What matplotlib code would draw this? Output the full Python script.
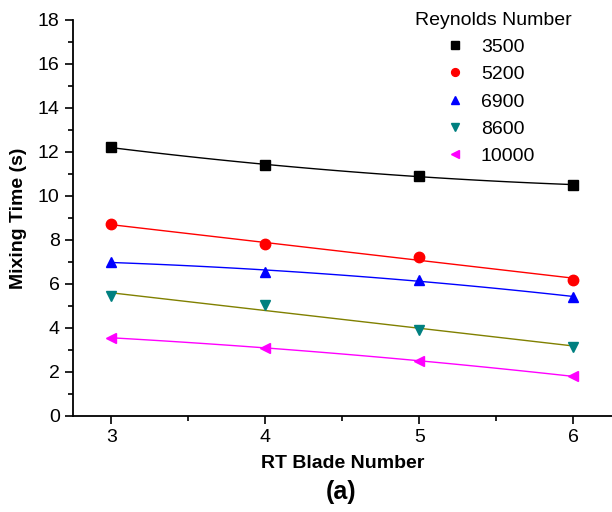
import matplotlib
matplotlib.use("Agg")
import matplotlib.pyplot as plt
import numpy as np

plt.rcParams["font.family"] = ["Liberation Sans", "DejaVu Sans"]

blades = [3, 4, 5, 6]
reynolds = ["3500", "5200", "6900", "8600", "10000"]
mix_3500 = [12.2, 11.4, 10.9, 10.5]
mix_5200 = [8.7, 7.8, 7.2, 6.2]
mix_6900 = [7.0, 6.55, 6.2, 5.4]
mix_8600 = [5.45, 5.05, 3.9, 3.15]
mix_10000 = [3.55, 3.1, 2.5, 1.8]

series = [mix_3500, mix_5200, mix_6900, mix_8600, mix_10000]
markers = ["s", "o", "^", "v", "<"]
marker_colors = ["black", "red", "blue", "#008080", "magenta"]
line_colors = ["black", "red", "blue", "#808000", "magenta"]
fit_degree = [2, 1, 2, 1, 2]

fig = plt.figure(figsize=(6.12, 5.12), dpi=100)
ax = fig.add_axes([0.119, 0.1875, 0.881, 0.774])

xs = np.linspace(3, 6, 100)
for name, ys, m, mc, lc, deg in zip(reynolds, series, markers, marker_colors,
                                   line_colors, fit_degree):
    coef = np.polyfit(blades, ys, deg)
    ax.plot(xs, np.polyval(coef, xs), color=lc, lw=1.0)
    ax.plot(blades, ys, linestyle="none", marker=m, color=mc, markersize=7.5,
            label=name)

ax.set_xlim(2.75, 6.25)
ax.set_ylim(0, 18)
ax.set_xticks([3, 4, 5, 6])
ax.set_xticks([3.5, 4.5, 5.5], minor=True)
ax.set_yticks(range(0, 19, 2))
ax.set_yticks(range(1, 18, 2), minor=True)
ax.tick_params(which="major", length=6, width=1.2, labelsize=14)
ax.tick_params(which="minor", length=3.5, width=1.2)
ax.spines["top"].set_visible(False)
ax.spines["right"].set_visible(False)
ax.spines["left"].set_linewidth(1.3)
ax.spines["bottom"].set_linewidth(1.3)

ax.set_xlabel("RT Blade Number", fontsize=14, fontweight="bold", labelpad=6)
ax.set_ylabel("Mixing Time (s)", fontsize=14, fontweight="bold", labelpad=8)
fig.text(0.557, 0.039, "(a)", fontsize=18, fontweight="bold",
         ha="center", va="center")

leg = ax.legend(title="Reynolds Number", loc="upper right",
                bbox_to_anchor=(0.94, 1.04), frameon=False,
                fontsize=14, title_fontsize=14, handlelength=0.3,
                handletextpad=1.2, borderaxespad=0.0, labelspacing=0.5,
                markerscale=0.75)

fig.savefig("out.png", dpi=100)
